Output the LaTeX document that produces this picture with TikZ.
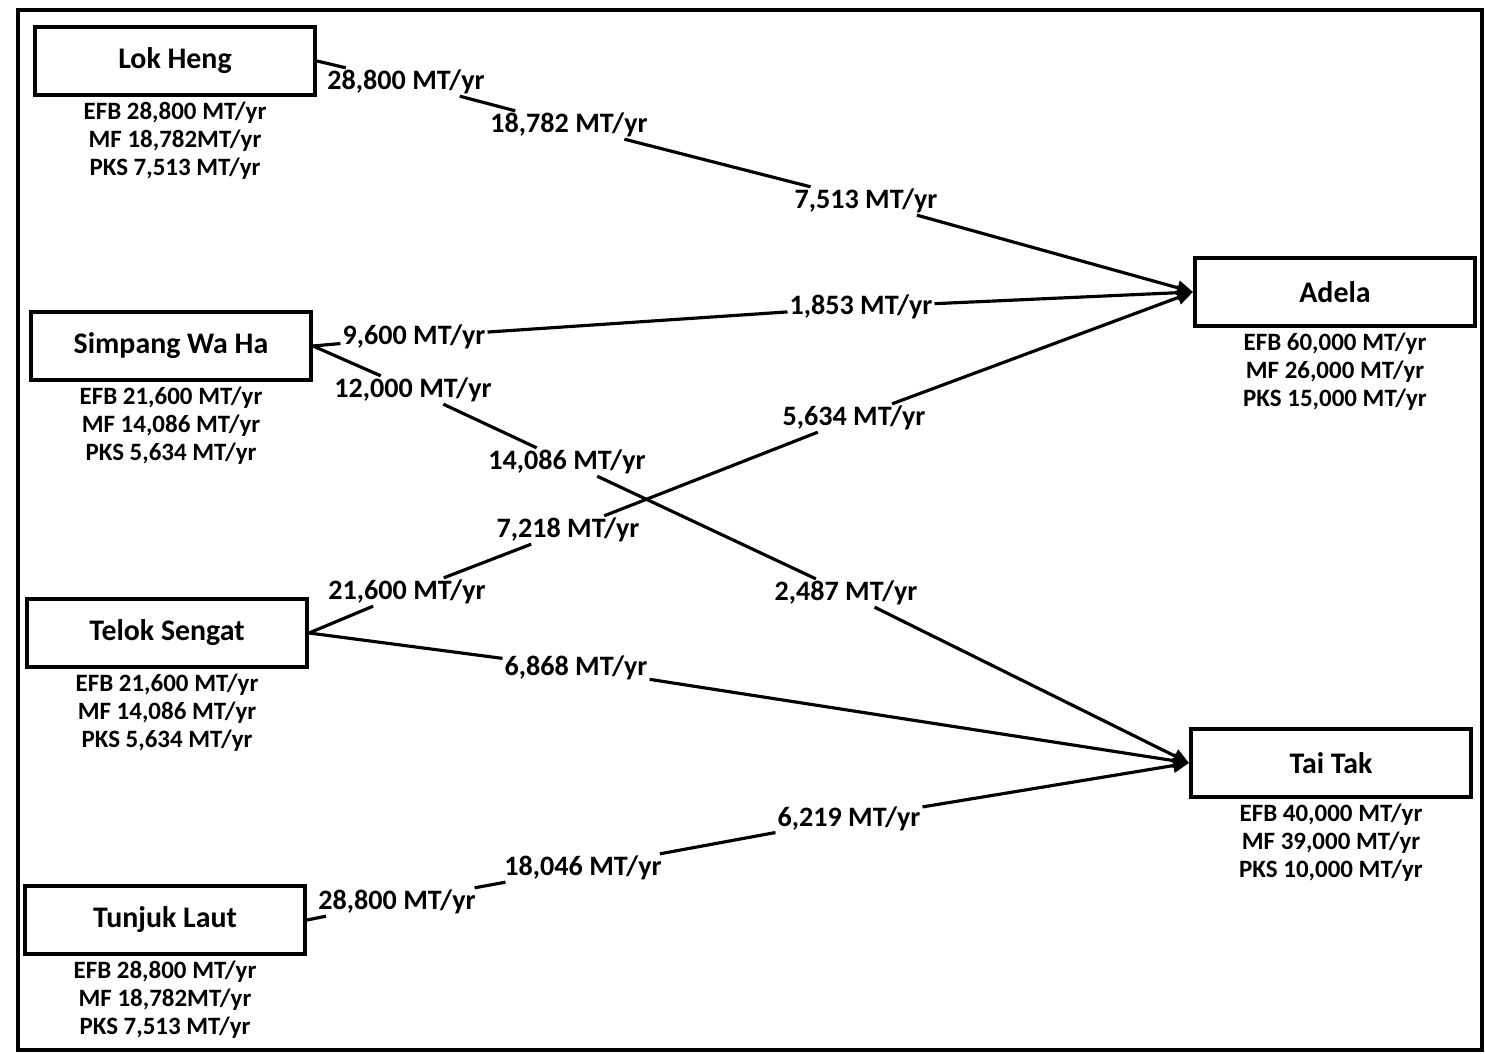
\documentclass[tikz,border=0pt]{standalone}
\usepackage{fontspec}
\setmainfont{Carlito}
\usetikzlibrary{positioning,arrows.meta}

\begin{document}
\begin{tikzpicture}[x=0.02cm, y=-0.02cm,
    plant/.style={draw, line width=2.3pt, minimum width=5.6cm, minimum height=1.36cm,
      font=\fontsize{17}{18}\selectfont\bfseries},
    info/.style={align=center, inner sep=0pt, font=\fontsize{14.2}{15.9}\selectfont\bfseries},
    flow/.style={fill=white, inner sep=1pt, font=\fontsize{16}{18}\selectfont\bfseries},
    link/.style={line width=1.8pt},
    feed/.style={link, -{Triangle[length=9pt,width=8pt]}}]
    \useasboundingbox (0,0) rectangle (1485,1054);
    % frame
    \draw[line width=2.2pt] (18,10) rectangle (1482,1050);
    % mills (left) and plants (right)
    \node[plant] (lok) at (175,61) {Lok Heng};
    \node[plant] (simpang) at (171,346) {Simpang Wa Ha};
    \node[plant] (telok) at (167,633) {Telok Sengat};
    \node[plant] (tunjuk) at (165,920) {Tunjuk Laut};
    \node[plant] (adela) at (1335,292) {Adela};
    \node[plant] (taitak) at (1331,763) {Tai Tak};
    % amounts under each box
    \node[info, below=2.5pt of lok] {EFB 28,800 MT/yr\\MF 18,782MT/yr\\PKS 7,513 MT/yr};
    \node[info, below=2.5pt of simpang] {EFB 21,600 MT/yr\\MF 14,086 MT/yr\\PKS 5,634 MT/yr};
    \node[info, below=2.5pt of telok] {EFB 21,600 MT/yr\\MF 14,086 MT/yr\\PKS 5,634 MT/yr};
    \node[info, below=2.5pt of tunjuk] {EFB 28,800 MT/yr\\MF 18,782MT/yr\\PKS 7,513 MT/yr};
    \node[info, below=2.5pt of adela] {EFB 60,000 MT/yr\\MF 26,000 MT/yr\\PKS 15,000 MT/yr};
    \node[info, below=2.5pt of taitak] {EFB 40,000 MT/yr\\MF 39,000 MT/yr\\PKS 10,000 MT/yr};
    % flow labels
    \node[flow] (a1) at (406,82) {28,800 MT/yr};
    \node[flow] (a2) at (569,125) {18,782 MT/yr};
    \node[flow] (a3) at (866,201) {7,513 MT/yr};
    \node[flow] (b1) at (414,337) {9,600 MT/yr};
    \node[flow] (b2) at (861,307) {1,853 MT/yr};
    \node[flow] (c1) at (413,390) {12,000 MT/yr};
    \node[flow] (c2) at (567,462) {14,086 MT/yr};
    \node[flow] (c3) at (846,593) {2,487 MT/yr};
    \node[flow] (d1) at (407,592) {21,600 MT/yr};
    \node[flow] (d2) at (568,530) {7,218 MT/yr};
    \node[flow] (d3) at (854,418) {5,634 MT/yr};
    \node[flow] (e1) at (576,668) {6,868 MT/yr};
    \node[flow] (f1) at (397,902) {28,800 MT/yr};
    \node[flow] (f2) at (583,868) {18,046 MT/yr};
    \node[flow] (f3) at (849,819) {6,219 MT/yr};
    % flows
    \draw[link] (lok.east) -- (a1) -- (a2) -- (a3);
    \draw[feed] (a3) -- (adela.west);
    \draw[link] (simpang.east) -- (b1) -- (b2);
    \draw[feed] (b2) -- (adela.west);
    \draw[link] (simpang.east) -- (c1) -- (c2) -- (c3);
    \draw[feed] (c3) -- (taitak.west);
    \draw[link] (telok.east) -- (d1) -- (d2) -- (d3);
    \draw[feed] (d3) -- (adela.west);
    \draw[link] (telok.east) -- (e1);
    \draw[feed] (e1) -- (taitak.west);
    \draw[link] (tunjuk.east) -- (f1) -- (f2) -- (f3);
    \draw[feed] (f3) -- (taitak.west);
\end{tikzpicture}
\end{document}
